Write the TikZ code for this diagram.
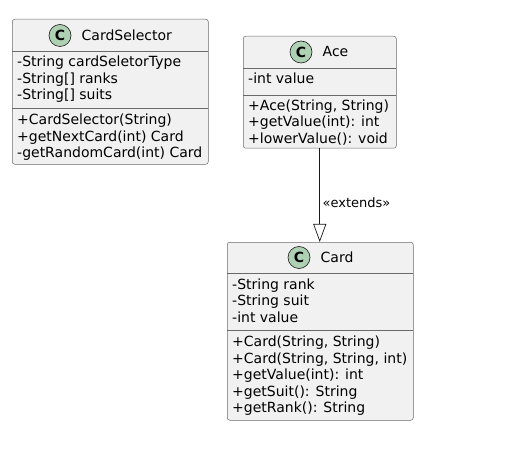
\documentclass[tikz,border=0pt]{standalone}
\usepackage{fontspec}
\setmainfont{DejaVu Sans}
\usetikzlibrary{arrows.meta}
\definecolor{boxfill}{HTML}{F1F1F1}
\definecolor{boxline}{HTML}{181818}
\definecolor{sepcol}{HTML}{6A6A6A}
\definecolor{circfill}{HTML}{ADD1B2}
\begin{document}
\begin{tikzpicture}[x=1bp,y=-1bp,
  classbox/.style={draw=sepcol, fill=boxfill, rounded corners=2.5bp, line width=0.5bp, inner sep=0, anchor=north west},
  sepline/.style={draw=sepcol, line width=0.5bp},
  member/.style={anchor=base west, inner sep=0, font=\fontsize{14bp}{16bp}\selectfont},
  cname/.style={anchor=base west, inner sep=0, font=\fontsize{14bp}{16bp}\selectfont},
  badge/.style={circle, draw=boxline, fill=circfill, line width=0.6bp, minimum size=22bp, inner sep=0, font=\bfseries\fontsize{14bp}{14bp}\selectfont},
  extends/.style={draw=boxline, line width=0.7bp, -{Triangle[open, length=18bp, width=13bp]}},
  elabel/.style={anchor=west, inner sep=0, font=\fontsize{13bp}{15bp}\selectfont}]
\useasboundingbox (0,0) rectangle (512,464);

% CardSelector
\node[classbox, minimum width=196bp, minimum height=145bp] (cs) at (12,19) {};
\draw[sepline] (12,51.5) -- (208,51.5);
\draw[sepline] (12,108) -- (208,108);
\node[badge] (csb) at (60,35.5) {C};
\node[cname] (csn) at (81.5,40.5) {CardSelector};
\node[member] (cs1) at (17,66.7) {-String cardSeletorType};
\node[member] (cs2) at (17,83.2) {-String[] ranks};
\node[member] (cs3) at (17,99.7) {-String[] suits};
\node[member] (cs4) at (17,125) {+CardSelector(String)};
\node[member] (cs5) at (17,141.5) {+getNextCard(int) Card};
\node[member] (cs6) at (17,158) {-getRandomCard(int) Card};

% Ace
\node[classbox, minimum width=153bp, minimum height=112bp] (ace) at (243,36) {};
\draw[sepline] (243,68) -- (396,68);
\draw[sepline] (243,95) -- (396,95);
\node[badge] (aceb) at (301,52) {C};
\node[cname] (acen) at (322.5,57) {Ace};
\node[member] (ace1) at (248,83.5) {-int value};
\node[member] (ace2) at (248,110.5) {+Ace(String, String)};
\node[member] (ace3) at (248,127) {+getValue(int): int};
\node[member] (ace4) at (248,143.5) {+lowerValue(): void};

% Card
\node[classbox, minimum width=186bp, minimum height=178bp] (card) at (227,242) {};
\draw[sepline] (227,273) -- (413,273);
\draw[sepline] (227,330) -- (413,330);
\node[badge] (cardb) at (299,257.5) {C};
\node[cname] (cardn) at (320.5,262.5) {Card};
\node[member] (card1) at (232,289) {-String rank};
\node[member] (card2) at (232,305.5) {-String suit};
\node[member] (card3) at (232,322) {-int value};
\node[member] (card4) at (232,346.5) {+Card(String, String)};
\node[member] (card5) at (232,363) {+Card(String, String, int)};
\node[member] (card6) at (232,379.5) {+getValue(int): int};
\node[member] (card7) at (232,396) {+getSuit(): String};
\node[member] (card8) at (232,412.5) {+getRank(): String};

% connector
\draw[extends] (ace.south) -- (ace.south |- card.north)
  node[elabel, pos=0.58, xshift=2.5bp] (lbl) {«extends»};
\end{tikzpicture}
\end{document}
